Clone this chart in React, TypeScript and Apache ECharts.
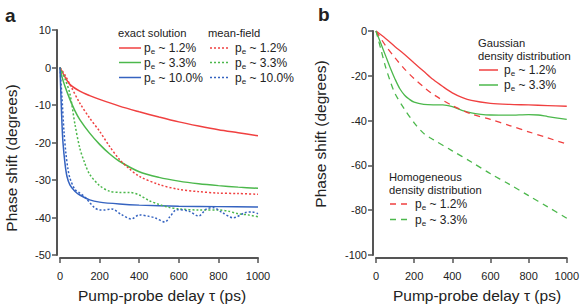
import React, { useEffect, useRef } from "react";
import * as echarts from "echarts";

// ---------- Data (tau in ps, phase shift in degrees) ----------
// Panel a: exact solution
const exact12: number[][] = [[0,0],[25,-2.5],[50,-4.5],[100,-6.3],[150,-7.5],[200,-8.5],[300,-10.3],[400,-11.8],[500,-13.2],[600,-14.5],[700,-15.6],[800,-16.6],[900,-17.4],[1000,-18.2]];
const exact33: number[][] = [[0,0],[10,-2.5],[25,-5],[50,-8.5],[75,-11.5],[100,-13.9],[150,-17.5],[200,-20.5],[250,-23],[300,-25],[400,-27.8],[500,-29.3],[600,-30.3],[700,-31],[800,-31.5],[900,-31.9],[1000,-32.2]];
const exact100: number[][] = [[0,0],[5,-8],[10,-15],[15,-20],[25,-25.5],[35,-29],[50,-31.3],[75,-33],[100,-34],[150,-35.3],[200,-35.9],[300,-36.4],[400,-36.7],[600,-37],[800,-37.1],[1000,-37.2]];
// Panel a: mean-field
const mf12: number[][] = [[0,0],[25,-2],[50,-4.5],[100,-9.5],[150,-13.5],[200,-17],[250,-21],[300,-24.5],[350,-27],[400,-29],[500,-31.2],[600,-32.5],[700,-33.1],[800,-33.5],[900,-33.6],[1000,-33.8]];
const mf33: number[][] = [[0,0],[25,-3],[50,-7],[75,-15],[100,-21.5],[125,-25.5],[150,-28.5],[200,-31.5],[250,-33],[300,-33.3],[350,-33.3],[400,-34],[450,-35.5],[500,-36.5],[550,-37.3],[600,-37.7],[700,-38],[800,-38],[850,-38.3],[900,-39],[950,-39.3],[1000,-39.8]];
const mf100: number[][] = [[0,0],[10,-8],[20,-17],[30,-23],[40,-27],[50,-29.5],[75,-32.5],[100,-33.5],[125,-34.5],[150,-36],[175,-37.4],[200,-38],[225,-38],[260,-37.7],[310,-39.2],[360,-40.4],[400,-39.3],[450,-39.7],[480,-40.1],[530,-41.2],[555,-39.8],[590,-37.9],[650,-38.3],[700,-39.6],[740,-37.7],[775,-37.4],[820,-38.7],[875,-40.1],[935,-38.7],[970,-38.5],[1000,-39]];
// Panel b: Gaussian density distribution
const gauss12: number[][] = [[0,0],[50,-3.3],[100,-7],[150,-10.5],[200,-14.3],[250,-18],[300,-21.7],[350,-24.8],[400,-27.6],[450,-29.6],[500,-31],[600,-32.3],[700,-32.8],[800,-33],[900,-33.3],[1000,-33.6]];
const gauss33: number[][] = [[0,0],[25,-5.5],[50,-11],[75,-16.5],[100,-21.5],[125,-25.8],[150,-28.7],[175,-30.5],[200,-31.8],[250,-32.8],[300,-33],[350,-33],[400,-33.8],[450,-35.4],[500,-36.6],[550,-37.2],[600,-37.5],[700,-37.6],[800,-37.3],[850,-37.5],[900,-38.2],[1000,-39.5]];
// Panel b: Homogeneous density distribution
const homo12: number[][] = [[0,0],[50,-6.5],[100,-12],[150,-17],[200,-21.3],[250,-25],[300,-28.3],[400,-33.3],[500,-37],[600,-39.5],[700,-42.2],[800,-45],[900,-47.7],[1000,-50.5]];
const homo33: number[][] = [[0,0],[25,-8],[50,-16],[75,-22.5],[100,-28],[150,-35],[200,-41],[250,-45.7],[300,-48.5],[400,-53.5],[500,-58.5],[600,-63.7],[700,-68.5],[800,-73.5],[900,-78.5],[1000,-83.6]];

const legendA = ["p_e ~ 1.2%", "p_e ~ 3.3%", "p_e ~ 10.0%"];
const legendB = ["p_e ~ 1.2%", "p_e ~ 3.3%"];

const RED = "#f04040";
const GREEN = "#4cb84c";
const BLUE = "#3563c0";
const AXIS = "#555555";
const FONT = "'Liberation Sans', Arial, sans-serif";

const richSub = {
  p: { fontSize: 12, fontFamily: FONT, lineHeight: 15, verticalAlign: "middle", fill: "#222" },
  s: { fontSize: 8, fontFamily: FONT, lineHeight: 8, verticalAlign: "bottom", fill: "#222" },
  t: { fontSize: 12, fontFamily: FONT, lineHeight: 15, verticalAlign: "middle", fill: "#222" },
  h: { fontSize: 11.2, fontFamily: FONT, lineHeight: 14, verticalAlign: "middle", fill: "#222" },
};

function peText(label: string) {
  const rest = label.replace("p_e", "");
  return "{p|p}{s|e}{t|" + rest + "}";
}

function plainText(x: number, y: number, text: string, size = 11.5, extra: any = {}) {
  return {
    type: "text",
    x,
    y,
    style: { text, font: `${size}px ${FONT}`, fill: "#222", verticalAlign: "middle", align: "left", ...extra },
  };
}

function headerText(x: number, y: number, text: string) {
  return {
    type: "text",
    x,
    y,
    style: { text: "{h|" + text + "}", rich: richSub, verticalAlign: "middle", align: "left" },
  };
}

function legendLine(x1: number, x2: number, y: number, color: string, dash: any) {
  return {
    type: "line",
    shape: { x1, y1: y, x2, y2: y },
    style: { stroke: color, lineWidth: 1.5, lineDash: dash },
  };
}

function legendLabel(x: number, y: number, label: string) {
  return {
    type: "text",
    x,
    y,
    style: { text: peText(label), rich: richSub, verticalAlign: "middle", align: "left" },
  };
}

export default function App() {
  const ref = useRef<HTMLDivElement>(null);
  useEffect(() => {
    if (!ref.current) return;
    const chart = echarts.init(ref.current, undefined, { renderer: "svg" });

    const xAxisCommon = {
      type: "value",
      min: 0,
      max: 1000,
      interval: 200,
      offset: 3,
      axisLine: { show: true, onZero: false, lineStyle: { color: AXIS, width: 2 } },
      axisTick: { show: true, length: 5, lineStyle: { color: AXIS, width: 1.5 } },
      axisLabel: { color: "#222", fontSize: 11, fontFamily: FONT, margin: 12, formatter: (v: number) => String(v) },
      splitLine: { show: false },
    };
    const yAxisCommon = {
      type: "value",
      offset: 3,
      axisLine: { show: true, onZero: false, lineStyle: { color: AXIS, width: 2 } },
      axisTick: { show: true, length: 5, lineStyle: { color: AXIS, width: 1.5 } },
      axisLabel: { color: "#222", fontSize: 11, fontFamily: FONT, margin: 6, formatter: (v: number) => String(v) },
      splitLine: { show: false },
    };

    const mk = (data: number[][], color: string, type: any, axis: number, width = 1.5) => ({
      type: "line",
      xAxisIndex: axis,
      yAxisIndex: axis,
      data,
      smooth: 0.3,
      showSymbol: false,
      symbol: "none",
      lineStyle: { color, width, type },
      z: 3,
    });

    const dot = [2, 2];
    const dash = [6, 5];

    chart.setOption({
      animation: false,
      backgroundColor: "#ffffff",
      grid: [
        { left: 60, width: 198, top: 30, height: 225 },
        { left: 376, width: 193, top: 31, height: 224 },
      ],
      xAxis: [
        { ...xAxisCommon, gridIndex: 0 },
        { ...xAxisCommon, gridIndex: 1 },
      ],
      yAxis: [
        { ...yAxisCommon, gridIndex: 0, min: -50, max: 10, interval: 10 },
        { ...yAxisCommon, gridIndex: 1, min: -100, max: 0, interval: 20 },
      ],
      series: [
        mk(exact12, RED, "solid", 0),
        mk(exact33, GREEN, "solid", 0),
        mk(exact100, BLUE, "solid", 0),
        mk(mf12, RED, dot, 0),
        mk(mf33, GREEN, dot, 0),
        mk(mf100, BLUE, dot, 0),
        mk(gauss12, RED, "solid", 1, 1.3),
        mk(gauss33, GREEN, "solid", 1, 1.3),
        mk(homo12, RED, dash, 1, 1.3),
        mk(homo33, GREEN, dash, 1, 1.3),
      ],
      graphic: [
        // panel labels
        plainText(5, 15, "a", 19, { font: `bold 19px ${FONT}` }),
        plainText(318, 14, "b", 19, { font: `bold 19px ${FONT}` }),
        // axis titles
        {
          type: "text", x: 11, y: 158, rotation: Math.PI / 2,
          style: { text: "Phase shift (degrees)", font: `15.5px ${FONT}`, fill: "#222", align: "center", verticalAlign: "middle" },
        },
        {
          type: "text", x: 320, y: 134, rotation: Math.PI / 2,
          style: { text: "Phase shift (degrees)", font: `15.5px ${FONT}`, fill: "#222", align: "center", verticalAlign: "middle" },
        },
        plainText(162, 295, "Pump-probe delay \u03c4 (ps)", 15.5, { align: "center" }),
        plainText(477, 295, "Pump-probe delay \u03c4 (ps)", 15.5, { align: "center" }),
        // legend panel a
        headerText(118, 33, "exact solution"),
        headerText(208, 33, "mean-field"),
        legendLine(119, 141, 48, RED, null), legendLabel(144, 48, legendA[0]),
        legendLine(119, 141, 62.5, GREEN, null), legendLabel(144, 62.5, legendA[1]),
        legendLine(119, 141, 77.5, BLUE, null), legendLabel(144, 77.5, legendA[2]),
        legendLine(210, 230, 48, RED, dot), legendLabel(235, 48, legendA[0]),
        legendLine(210, 230, 62.5, GREEN, dot), legendLabel(235, 62.5, legendA[1]),
        legendLine(210, 230, 77.5, BLUE, dot), legendLabel(235, 77.5, legendA[2]),
        // legend panel b: Gaussian
        headerText(478, 43, "Gaussian"),
        headerText(478, 55.5, "density distribution"),
        legendLine(479, 498, 70, RED, null), legendLabel(504, 70, legendB[0]),
        legendLine(479, 498, 85, GREEN, null), legendLabel(504, 85, legendB[1]),
        // legend panel b: Homogeneous
        headerText(389, 177, "Homogeneous"),
        headerText(389, 190, "density distribution"),
        legendLine(390, 409, 204, RED, dash), legendLabel(415, 204, legendB[0]),
        legendLine(390, 409, 219.5, GREEN, dash), legendLabel(415, 219.5, legendB[1]),
      ],
    });
    return () => chart.dispose();
  }, []);
  return <div ref={ref} style={{ width: 582, height: 305, position: "absolute", left: 0, top: 0 }} />;
}
